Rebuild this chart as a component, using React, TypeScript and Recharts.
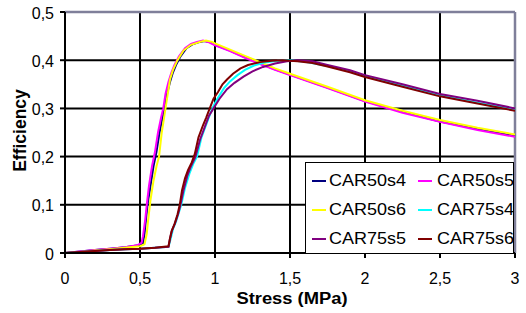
import { CartesianGrid, Legend, Line, LineChart, ReferenceLine, XAxis, YAxis } from "recharts";

type Pt = [number, number];

const xTicks = [0, 0.5, 1, 1.5, 2, 2.5, 3];
const yTicks = [0, 0.1, 0.2, 0.3, 0.4, 0.5];

// stress (MPa), efficiency
const car50s4: Pt[] = [
  [0, 0], [0.1, 0.003], [0.2, 0.006], [0.3, 0.009], [0.4, 0.012], [0.49, 0.016], [0.52, 0.02],
  [0.53, 0.04], [0.54, 0.07], [0.55, 0.1], [0.57, 0.14], [0.59, 0.18], [0.61, 0.21], [0.63, 0.25],
  [0.65, 0.28], [0.665, 0.3], [0.68, 0.33], [0.7, 0.355], [0.72, 0.375], [0.74, 0.39], [0.77, 0.408],
  [0.81, 0.425], [0.85, 0.433], [0.89, 0.437], [0.93, 0.44], [0.97, 0.437], [1.0, 0.432], [1.1, 0.42],
  [1.2, 0.406], [1.3, 0.393], [1.4, 0.381], [1.5, 0.37], [1.75, 0.343], [2.0, 0.315], [2.25, 0.293],
  [2.5, 0.273], [2.75, 0.257], [3.0, 0.243],
];
const car50s5: Pt[] = [
  [0, 0], [0.1, 0.003], [0.2, 0.006], [0.3, 0.009], [0.4, 0.012], [0.48, 0.016], [0.51, 0.021],
  [0.52, 0.035], [0.535, 0.07], [0.545, 0.1], [0.56, 0.14], [0.58, 0.18], [0.6, 0.21], [0.62, 0.25],
  [0.64, 0.28], [0.655, 0.3], [0.67, 0.33], [0.69, 0.355], [0.71, 0.375], [0.73, 0.39], [0.76, 0.408],
  [0.8, 0.425], [0.84, 0.434], [0.88, 0.438], [0.92, 0.441], [0.96, 0.437], [1.0, 0.431], [1.1, 0.419],
  [1.2, 0.405], [1.3, 0.392], [1.4, 0.38], [1.5, 0.369], [1.75, 0.342], [2.0, 0.314], [2.25, 0.291],
  [2.5, 0.272], [2.75, 0.255], [3.0, 0.241],
];
const car50s6: Pt[] = [
  [0, 0], [0.1, 0.002], [0.2, 0.005], [0.3, 0.008], [0.4, 0.011], [0.5, 0.014], [0.53, 0.018],
  [0.545, 0.04], [0.555, 0.07], [0.57, 0.11], [0.59, 0.15], [0.61, 0.18], [0.627, 0.2], [0.645, 0.25],
  [0.67, 0.3], [0.685, 0.33], [0.7, 0.36], [0.72, 0.38], [0.75, 0.4], [0.79, 0.42], [0.84, 0.432],
  [0.9, 0.438], [0.94, 0.441], [0.98, 0.438], [1.0, 0.435], [1.1, 0.422], [1.2, 0.409], [1.3, 0.396],
  [1.4, 0.383], [1.5, 0.372], [1.75, 0.345], [2.0, 0.317], [2.25, 0.295], [2.5, 0.276], [2.75, 0.26],
  [3.0, 0.246],
];
const car75s4: Pt[] = [
  [0, 0], [0.1, 0.002], [0.2, 0.004], [0.3, 0.006], [0.4, 0.008], [0.5, 0.009], [0.6, 0.011],
  [0.69, 0.013], [0.705, 0.03], [0.72, 0.05], [0.74, 0.065], [0.76, 0.085], [0.775, 0.1], [0.8, 0.135],
  [0.83, 0.165], [0.855, 0.185], [0.88, 0.2], [0.91, 0.24], [0.94, 0.265], [0.97, 0.29], [0.99, 0.305],
  [1.02, 0.322], [1.06, 0.342], [1.1, 0.356], [1.15, 0.369], [1.2, 0.38], [1.26, 0.389], [1.33, 0.395],
  [1.42, 0.399], [1.5, 0.4], [1.6, 0.397], [1.75, 0.388], [1.9, 0.377], [2.0, 0.367], [2.25, 0.347],
  [2.5, 0.327], [2.75, 0.312], [3.0, 0.297],
];
const car75s5: Pt[] = [
  [0, 0], [0.1, 0.002], [0.2, 0.004], [0.3, 0.006], [0.4, 0.008], [0.5, 0.009], [0.6, 0.011],
  [0.69, 0.013], [0.7, 0.03], [0.715, 0.048], [0.735, 0.063], [0.755, 0.082], [0.77, 0.1], [0.79, 0.13],
  [0.815, 0.16], [0.84, 0.18], [0.87, 0.2], [0.9, 0.235], [0.93, 0.26], [0.96, 0.285], [0.99, 0.3],
  [1.03, 0.32], [1.08, 0.34], [1.13, 0.353], [1.19, 0.366], [1.25, 0.377], [1.32, 0.386], [1.4, 0.393],
  [1.48, 0.398], [1.55, 0.4], [1.65, 0.398], [1.75, 0.39], [1.9, 0.379], [2.0, 0.369], [2.25, 0.35],
  [2.5, 0.33], [2.75, 0.316], [3.0, 0.3],
];
const car75s6: Pt[] = [
  [0, 0], [0.1, 0.002], [0.2, 0.004], [0.3, 0.006], [0.4, 0.008], [0.5, 0.009], [0.6, 0.011],
  [0.69, 0.014], [0.7, 0.03], [0.71, 0.045], [0.73, 0.06], [0.75, 0.08], [0.765, 0.1], [0.78, 0.13],
  [0.8, 0.155], [0.82, 0.172], [0.845, 0.188], [0.865, 0.205], [0.89, 0.24], [0.92, 0.265], [0.94, 0.28],
  [0.965, 0.3], [0.99, 0.32], [1.02, 0.334], [1.05, 0.35], [1.08, 0.36], [1.12, 0.372], [1.17, 0.383],
  [1.22, 0.39], [1.3, 0.396], [1.38, 0.399], [1.45, 0.4], [1.55, 0.398], [1.65, 0.394], [1.75, 0.387],
  [1.9, 0.375], [2.0, 0.365], [2.25, 0.345], [2.5, 0.325], [2.75, 0.31], [3.0, 0.295],
];

const series = [
  { name: "CAR50s4", color: "#000080", pts: car50s4 },
  { name: "CAR50s5", color: "#ff00ff", pts: car50s5 },
  { name: "CAR50s6", color: "#ffff00", pts: car50s6 },
  { name: "CAR75s4", color: "#00ffff", pts: car75s4 },
  { name: "CAR75s5", color: "#800080", pts: car75s5 },
  { name: "CAR75s6", color: "#800000", pts: car75s6 },
];

const FONT = "'Liberation Sans', Arial, sans-serif";
const fmt = (v: number) => String(v).replace(".", ",");

function XTick({ x, y, payload }: any) {
  return (
    <text x={x} y={y + 24} textAnchor="middle" fontSize={16} fontFamily={FONT} fill="#000">
      {fmt(payload.value)}
    </text>
  );
}

function YTick({ x, y, payload }: any) {
  return (
    <text x={x - 4} y={y + 6.5} textAnchor="end" fontSize={16} fontFamily={FONT} fill="#000">
      {fmt(payload.value)}
    </text>
  );
}

function LegendBox() {
  return (
    <div
      style={{
        width: 209,
        height: 92,
        boxSizing: "border-box",
        border: "1px solid #000",
        background: "#fff",
        position: "relative",
        fontFamily: FONT,
      }}
    >
      {series.map((s, i) => {
        const col = i % 2;
        const row = Math.floor(i / 2);
        const left = col === 0 ? 6 : 112;
        const top = 18 + row * 29;
        return (
          <div key={s.name} style={{ position: "absolute", left, top: top - 10, height: 20, display: "flex", alignItems: "center" }}>
            <div style={{ width: 14, height: 2, background: s.color }} />
            <span
              style={{
                marginLeft: col === 0 ? 3 : 5,
                fontSize: 17,
                color: "#000",
                display: "inline-block",
                transform: "scaleX(1.06)",
                transformOrigin: "left center",
                whiteSpace: "nowrap",
              }}
            >
              {s.name}
            </span>
          </div>
        );
      })}
    </div>
  );
}

export default function App() {
  return (
    <div style={{ position: "absolute", left: 0, top: 0, background: "#fff" }}>
      <LineChart width={526} height={313} margin={{ top: 12, right: 11, bottom: 0, left: 0 }}>
        <CartesianGrid stroke="#000" strokeWidth={2} />
        <XAxis
          type="number"
          dataKey="x"
          domain={[0, 3]}
          ticks={xTicks}
          height={60}
          tickSize={5}
          stroke="#000"
          strokeWidth={2}
          tick={<XTick />}
          label={{
            content: ({ viewBox }: any) => (
              <g transform={`translate(${viewBox.x + viewBox.width / 2 + 2},${viewBox.y + 51}) scale(1.08,1)`}>
                <text textAnchor="middle" fontSize={17} fontWeight="bold" fontFamily={FONT} fill="#000">
                  Stress (MPa)
                </text>
              </g>
            ),
          }}
        />
        <YAxis
          type="number"
          dataKey="y"
          domain={[0, 0.5]}
          ticks={yTicks}
          width={65}
          tickSize={5}
          stroke="#000"
          strokeWidth={2}
          tick={<YTick />}
          label={{
            content: ({ viewBox }: any) => (
              <text
                transform={`translate(26,${viewBox.y + viewBox.height / 2 - 2}) rotate(-90)`}
                textAnchor="middle"
                fontSize={17.5}
                fontWeight="bold"
                fontFamily={FONT}
                fill="#000"
              >
                Efficiency
              </text>
            ),
          }}
        />
        <ReferenceLine y={0.5} stroke="#7f7f9a" strokeWidth={2.5} />
        <ReferenceLine x={3} stroke="#7f7f9a" strokeWidth={2.5} />
        {series.map((s) => (
          <Line
            key={s.name}
            data={s.pts.map(([x, y]) => ({ x, y }))}
            dataKey="y"
            name={s.name}
            type="linear"
            stroke={s.color}
            strokeWidth={2}
            dot={false}
            isAnimationActive={false}
          />
        ))}
        <Legend
          layout="horizontal"
          verticalAlign="middle"
          align="center"
          content={() => <LegendBox />}
          wrapperStyle={{ left: 305, top: 162, width: 209, height: 92 }}
        />
      </LineChart>
    </div>
  );
}
